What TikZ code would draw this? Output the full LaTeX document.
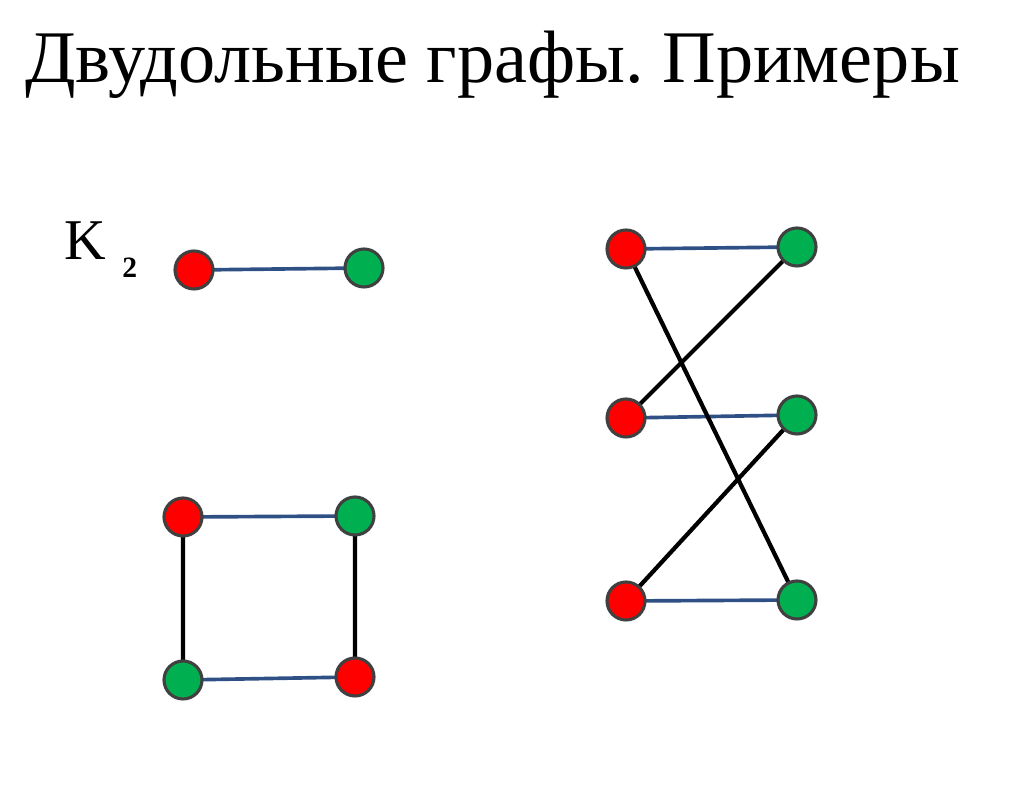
\documentclass[tikz,border=0pt]{standalone}
\usepackage{fontspec}
\setmainfont{Liberation Serif}
\usepackage{tkz-euclide}
\definecolor{vred}{HTML}{FF0000}
\definecolor{vgreen}{HTML}{00B050}
\definecolor{vrim}{HTML}{404040}
\definecolor{eblue}{HTML}{2F5085}
\tikzset{
  redv/.style={fill=vred,draw=vrim,line width=2.2pt},
  greenv/.style={fill=vgreen,draw=vrim,line width=2.2pt},
  bedge/.style={eblue,line width=2.6pt},
  kedge/.style={black,line width=3pt}
}

\begin{document}
\begin{tikzpicture}[x=0.025cm,y=0.025cm]
\useasboundingbox (0,0) rectangle (1015,795);
\node[anchor=base west,inner sep=0pt,font=\fontsize{52.8}{60}\selectfont] (title) at (25,712) {Двудольные графы.\ Примеры};
\node[anchor=base west,inner sep=0pt,font=\fontsize{41}{46}\selectfont] (K) at (64,535) {K};
\node[anchor=base west,inner sep=0pt,font=\fontsize{21}{24}\selectfont\bfseries] (two) at (122,517) {2};
% K_2
\tkzDefPoints{194/525/A,364/527/B}
% C_4
\tkzDefPoints{183/278/C,355/279/D,183/115/E,355/118/F}
% right graph
\tkzDefPoints{626/546/R1,797/548/G1,626/377/R2,797/380/G2,626/194/R3,797/195/G3}

\draw[bedge](A)--(B)(C)--(D)(E)--(F)(R1)--(G1)(R2)--(G2)(R3)--(G3);
\draw[kedge](C)--(E)(D)--(F)(R1)--(G3)(G1)--(R2)(G2)--(R3);
\foreach \p in {A,C,F,R1,R2,R3} \draw[redv](\p) circle (19);
\foreach \p in {B,D,E,G1,G2,G3} \draw[greenv](\p) circle (19);
\end{tikzpicture}
\end{document}
